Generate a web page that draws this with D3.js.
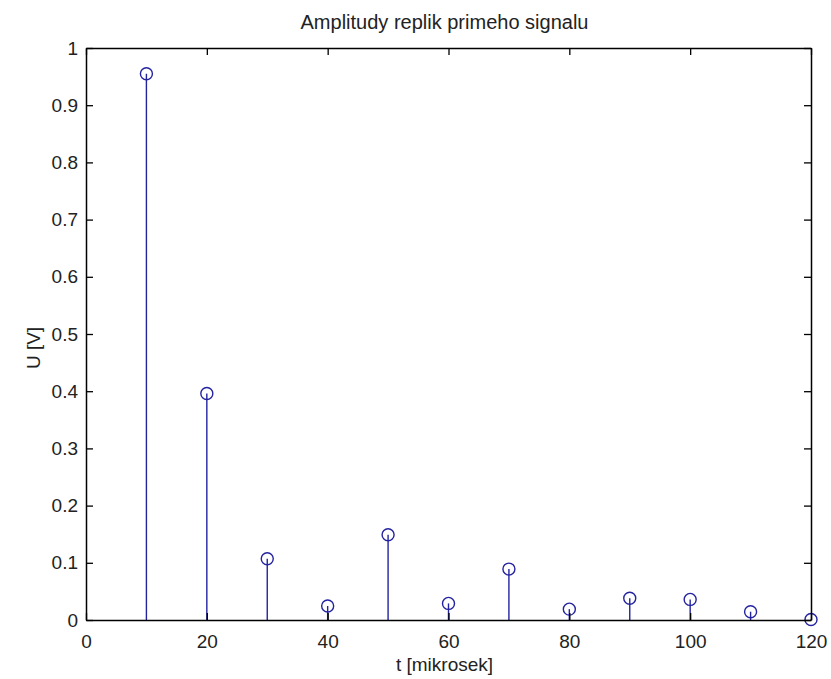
<!DOCTYPE html>
<html>
<head>
<meta charset="utf-8">
<script src="https://cdn.jsdelivr.net/npm/d3@7"></script>
<style>
  body { margin: 0; background: #fff; }
  svg { display: block; font-family: "Liberation Sans", Arial, sans-serif; }
</style>
</head>
<body>
<div id="chart"></div>
<script>
// time of each replica [mikrosek]
const tValues = [10, 20, 30, 40, 50, 60, 70, 80, 90, 100, 110, 120];
// amplitude of each replica [V]
const amplitudes = [0.955, 0.396, 0.107, 0.0245, 0.149, 0.029, 0.089, 0.019, 0.038, 0.036, 0.0145, 0.001];
const xTicks = [0, 20, 40, 60, 80, 100, 120];
const yTicks = [0, 0.1, 0.2, 0.3, 0.4, 0.5, 0.6, 0.7, 0.8, 0.9, 1];

const width = 831, height = 679;
const margin = { top: 48, right: 20, bottom: 59, left: 86 };
const innerW = width - margin.left - margin.right;
const innerH = height - margin.top - margin.bottom;
const stemColor = "#2323a0";

const svg = d3.select("#chart")
  .append("svg")
  .attr("width", width)
  .attr("height", height);

const g = svg.append("g")
  .attr("transform", `translate(${margin.left},${margin.top})`);

const x = d3.scaleLinear().domain([0, 120]).range([0, innerW]);
const y = d3.scaleLinear().domain([0, 1]).range([innerH, 0]);

// Stems
g.selectAll(".stem")
  .data(tValues)
  .join("line")
  .attr("class", "stem")
  .attr("x1", d => x(d))
  .attr("x2", d => x(d))
  .attr("y1", y(0))
  .attr("y2", (d, i) => y(amplitudes[i]))
  .attr("stroke", stemColor)
  .attr("stroke-width", 1.4);

// Markers
g.selectAll(".marker")
  .data(tValues)
  .join("circle")
  .attr("class", "marker")
  .attr("cx", d => x(d))
  .attr("cy", (d, i) => y(amplitudes[i]))
  .attr("r", 6)
  .attr("fill", "none")
  .attr("stroke", stemColor)
  .attr("stroke-width", 1.4);

// Axes with inward ticks (box on all four sides)
const fmt = d3.format("~g");

g.append("g")
  .attr("transform", `translate(0,${innerH})`)
  .call(d3.axisBottom(x).tickValues(xTicks).tickFormat(fmt).tickSize(-7).tickSizeOuter(0).tickPadding(15));

g.append("g")
  .call(d3.axisLeft(y).tickValues(yTicks).tickFormat(fmt).tickSize(-7).tickSizeOuter(0).tickPadding(8));

g.append("g")
  .call(d3.axisTop(x).tickValues(xTicks).tickFormat("").tickSize(-7).tickSizeOuter(0));

g.append("g")
  .attr("transform", `translate(${innerW},0)`)
  .call(d3.axisRight(y).tickValues(yTicks).tickFormat("").tickSize(-7).tickSizeOuter(0));

g.selectAll(".domain").attr("stroke", "#000").attr("stroke-width", 1.5);
g.selectAll(".tick line").attr("stroke", "#000").attr("stroke-width", 1.3);
g.selectAll(".tick text")
  .attr("font-size", "19px")
  .attr("fill", "#222")
  .style("font-family", "'Liberation Sans', Arial, sans-serif");

// Title
svg.append("text")
  .attr("x", margin.left + innerW / 2 - 4)
  .attr("y", 29)
  .attr("text-anchor", "middle")
  .attr("font-size", "20px")
  .attr("fill", "#222")
  .text("Amplitudy replik primeho signalu");

// X label
svg.append("text")
  .attr("x", margin.left + innerW / 2 - 4)
  .attr("y", 671)
  .attr("text-anchor", "middle")
  .attr("font-size", "19px")
  .attr("fill", "#222")
  .text("t [mikrosek]");

// Y label
svg.append("text")
  .attr("transform", `translate(40,${margin.top + innerH / 2 + 14}) rotate(-90)`)
  .attr("text-anchor", "middle")
  .attr("font-size", "19px")
  .attr("fill", "#222")
  .text("U [V]");
</script>
</body>
</html>
